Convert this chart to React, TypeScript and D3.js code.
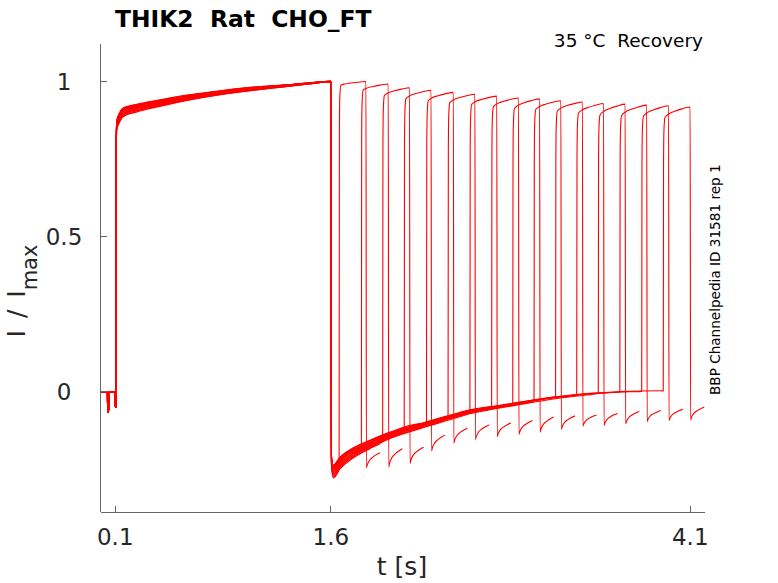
import { useMemo } from 'react';
import * as d3 from 'd3';

// ── Layout (px) ──
const W = 778;
const H = 583;
const X0 = 100.9;
const X1 = 705;
const Y_TOP = 44;
const Y_BOT = 512;
const FONT = 'DejaVu Sans, sans-serif';
const AXIS_COLOR = '#666';
const TRACE_COLOR = '#ff0000';

// ── Axis ticks ──
const X_TICKS = [0.1, 1.6, 4.1];
const X_TICK_LABELS = ['0.1', '1.6', '4.1'];
const Y_TICKS = [0, 0.5, 1];
const Y_TICK_LABELS = ['0', '0.5', '1'];

// ── Holding + first (conditioning) pulse, shared by every sweep ──
const PRE_T = [0, 0.045, 0.047, 0.054, 0.056, 0.098, 0.1, 0.104];
const PRE_I = [0, 0, -0.066, -0.066, 0, 0, -0.05, -0.05];

const FIRST_T = [0.105, 0.107, 0.11, 0.13, 0.15, 0.25, 0.4, 0.6, 0.8, 1.0, 1.2, 1.3, 1.45, 1.598];
const FIRST_I = [0.55, 0.8, 0.86, 0.885, 0.9, 0.915, 0.93, 0.948, 0.962, 0.974, 0.983, 0.987, 0.994, 1.0];
const FIRST_SPREAD = [0.01, 0.015, 0.016, 0.016, 0.015, 0.013, 0.011, 0.009, 0.007, 0.006, 0.004, 0.003, 0.002, 0.001];

// ── Tail current after the first pulse (recovering band) ──
const TAIL_T = [1.604, 1.617, 1.663, 1.756, 1.872, 1.988, 2.22, 2.451, 2.567, 2.684, 2.915, 3.147, 3.38, 3.617, 3.895];
const TAIL_I = [-0.22, -0.255, -0.228, -0.195, -0.168, -0.144, -0.11, -0.079, -0.064, -0.054, -0.036, -0.019, -0.007, 0.0, 0.003];
const TAIL_SPREAD = [0.015, 0.022, 0.02, 0.017, 0.014, 0.012, 0.009, 0.008, 0.007, 0.006, 0.005, 0.004, 0.003, 0.003, 0.002];

// ── Per-sweep test pulse ──
const RISE_T = [1.657, 1.812, 1.96, 2.11, 2.265, 2.415, 2.567, 2.718, 2.865, 3.013, 3.163, 3.31, 3.46, 3.61, 3.762, 3.912];
const BASE_AT_RISE = [-0.23, -0.18, -0.158, -0.125, -0.105, -0.084, -0.068, -0.053, -0.04, -0.029, -0.019, -0.01, -0.005, 0.0, 0.002, 0.003];
const PLATEAU_START = [0.988, 0.972, 0.955, 0.945, 0.938, 0.932, 0.926, 0.919, 0.913, 0.91, 0.905, 0.898, 0.892, 0.89, 0.888, 0.884];
const PLATEAU_END = [1.0, 0.992, 0.98, 0.972, 0.965, 0.959, 0.953, 0.947, 0.944, 0.938, 0.934, 0.929, 0.927, 0.924, 0.922, 0.918];
const TAIL_MIN = [-0.235, -0.23, -0.22, -0.18, -0.155, -0.144, -0.135, -0.128, -0.12, -0.112, -0.103, -0.1, -0.095, -0.088, -0.085, -0.082];
const TAIL_END = [-0.196, -0.183, -0.178, -0.139, -0.117, -0.106, -0.1, -0.092, -0.081, -0.077, -0.074, -0.069, -0.063, -0.06, -0.056, -0.049];
const TRACE_OFFSET = [0.2, 0.6, -1, -0.4, 0.8, -0.7, 0.3, -0.2, 0.9, -0.5, 0.1, 0.5, -0.9, 0.7, -0.1, 0.4];

// shape of the test pulse, relative to its onset (s) and as a fraction start→end
const RISE_DT = [0, 0.002, 0.005, 0.012];
const RISE_DROP = [null, 0.15, 0.04, 0];
const PLATEAU_DT = [0.04, 0.08, 0.13, 0.187];
const PLATEAU_FRAC = [0.35, 0.6, 0.82, 1];
const HOOK_DT = [0.19, 0.196, 0.21, 0.235, 0.26, 0.285];
const HOOK_FRAC = [-0.25, 0, 0.35, 0.65, 0.85, 1];

type Pt = [number, number];

function buildSweep(k: number): Pt[] {
  const off = TRACE_OFFSET[k];
  const t0 = RISE_T[k];
  const pts: Pt[] = [];
  PRE_T.forEach((t, i) => pts.push([t, PRE_I[i]]));
  FIRST_T.forEach((t, i) => pts.push([t, FIRST_I[i] + off * FIRST_SPREAD[i]]));
  TAIL_T.forEach((t, i) => {
    if (t < t0 - 0.01) pts.push([t, TAIL_I[i] + off * TAIL_SPREAD[i]]);
  });
  RISE_DT.forEach((dt, i) => {
    const drop = RISE_DROP[i];
    pts.push([t0 + dt, drop === null ? BASE_AT_RISE[k] : PLATEAU_START[k] - drop]);
  });
  PLATEAU_DT.forEach((dt, i) => {
    pts.push([t0 + dt, PLATEAU_START[k] + (PLATEAU_END[k] - PLATEAU_START[k]) * PLATEAU_FRAC[i]]);
  });
  HOOK_DT.forEach((dt, i) => {
    pts.push([t0 + dt, TAIL_MIN[k] + (TAIL_END[k] - TAIL_MIN[k]) * HOOK_FRAC[i]]);
  });
  return pts;
}

export default function App() {
  const x = useMemo(() => d3.scaleLinear().domain([0, 4.2]).range([X0, X0 + 4.2 * 143.75]), []);
  const y = useMemo(() => d3.scaleLinear().domain([-0.3866, 1.1208]).range([Y_BOT, Y_TOP]), []);

  const line = d3
    .line<Pt>()
    .x((d) => x(d[0]))
    .y((d) => y(d[1]))
    .curve(d3.curveMonotoneX);

  const sweeps = RISE_T.map((_, k) => buildSweep(k));

  return (
    <svg
      width={W}
      height={H}
      style={{ position: 'absolute', left: 0, top: 0, background: '#fff' }}
      fontFamily={FONT}
    >
      <rect x={0} y={0} width={W} height={H} fill="#fff" />

      {/* traces */}
      <g fill="none" stroke={TRACE_COLOR} strokeWidth={1.1} strokeLinejoin="round">
        {sweeps.map((s, k) => (
          <path key={k} d={line(s) ?? ''} />
        ))}
      </g>

      {/* axes */}
      <g stroke={AXIS_COLOR} strokeWidth={1} fill="none" shapeRendering="crispEdges">
        <line x1={X0} y1={Y_TOP} x2={X0} y2={Y_BOT} />
        <line x1={X0} y1={Y_BOT} x2={X1} y2={Y_BOT} />
        {X_TICKS.map((t) => (
          <line key={t} x1={x(t)} x2={x(t)} y1={Y_BOT} y2={Y_BOT - 6} />
        ))}
        {Y_TICKS.map((v) => (
          <line key={v} x1={X0} x2={X0 + 6} y1={y(v)} y2={y(v)} />
        ))}
      </g>

      {/* tick labels */}
      <g fill="#262626" fontSize={23}>
        {X_TICKS.map((t, i) => (
          <text key={t} x={x(t)} y={545} textAnchor="middle">
            {X_TICK_LABELS[i]}
          </text>
        ))}
        {Y_TICKS.map((v, i) => (
          <text key={v} x={64} y={y(v) + 8.3} textAnchor="middle">
            {Y_TICK_LABELS[i]}
          </text>
        ))}
      </g>

      {/* axis labels */}
      <text x={402} y={575} textAnchor="middle" fontSize={25} fill="#262626">
        t [s]
      </text>
      <text
        transform="translate(25,291) rotate(-90)"
        textAnchor="middle"
        fontSize={25}
        fill="#262626"
        wordSpacing={4}
        style={{ whiteSpace: 'pre' }}
      >
        I / I
        <tspan fontSize={21} dy={12}>
          max
        </tspan>
      </text>

      {/* title & annotations */}
      <text x={115} y={27} fontSize={23.4} fontWeight="bold" fill="#000" style={{ whiteSpace: 'pre' }}>
        THIK2  Rat  CHO_FT
      </text>
      <text x={703} y={47} textAnchor="end" fontSize={18.5} fill="#000" style={{ whiteSpace: 'pre' }}>
        35 °C  Recovery
      </text>
      <text transform="translate(720,395) rotate(-90)" fontSize={13.6} fill="#000">
        BBP Channelpedia ID 31581 rep 1
      </text>
    </svg>
  );
}
